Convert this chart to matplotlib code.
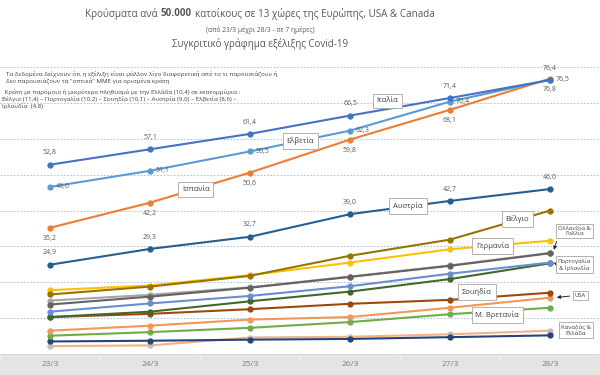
import numpy as np
import matplotlib
matplotlib.use('Agg')
import matplotlib.pyplot as plt
from matplotlib.patches import Rectangle

plt.rcParams['font.family'] = ['Open Sans', 'DejaVu Sans']

# ---- data (cases per 50.000 inhabitants) ----
dates = ['23/3', '24/3', '25/3', '26/3', '27/3', '28/3']

italy = [52.8, 57.1, 61.4, 66.5, 71.4, 76.4]
switzerland = [46.6, 51.1, 56.5, 62.3, 70.4, 76.5]
spain = [35.2, 42.2, 50.6, 59.8, 68.1, 76.8]
austria = [24.9, 29.3, 32.7, 39.0, 42.7, 46.0]
belgium = [16.6, 18.8, 21.8, 27.4, 31.9, 40.0]
germany = [17.8, 19.1, 22.0, 25.5, 29.2, 31.6]
netherlands = [14.9, 16.5, 18.6, 21.6, 24.7, 28.2]
france = [13.8, 16.0, 18.5, 21.5, 24.6, 28.1]
portugal = [11.8, 14.1, 16.2, 18.9, 22.4, 25.5]
ireland = [10.3, 11.8, 14.7, 17.4, 20.9, 25.3]
sweden = [10.3, 11.2, 12.5, 14.0, 15.1, 17.1]
usa = [6.5, 7.9, 9.6, 10.3, 12.9, 15.7]
uk = [5.1, 6.1, 7.3, 8.9, 11.1, 12.9]
canada = [2.2, 2.4, 4.6, 4.8, 5.5, 6.5]
greece = [3.5, 3.7, 4.0, 4.2, 4.7, 5.2]

title_parts = ['Κρούσματα ανά', '50.000', 'κατοίκους σε 13 χώρες της Ευρώπης, USA & Canada']
subtitle = '(από 23/3 μέχρι 28/3 - σε 7 ημέρες)'
title2 = 'Συγκριτικό γράφημα εξέλιξης Covid-19'
note_lines = ['Τα δεδομένα δείχνουν ότι η εξέλιξη είναι μάλλον λίγο διαφορετική από το τι παρουσιάζουν ή',
              'δεν παρουσιάζουν τα "οπτικά" ΜΜΕ για ορισμένα κράτη',
              ' Κράτη με παρόμοιο ή μικρότερο πληθυσμό με την Ελλάδα (10,4) σε εκατομμύρια :',
              'Βέλγιο (11,4) – Πορτογαλία (10,2) – Σουηδία (10,1) – Αυστρία (9,0) – Ελβετία (8,6) –',
              'Ιρλανδία  (4,8)']

W, H = 600, 375
fig = plt.figure(figsize=(6, 3.75), dpi=100)
# grey band at the bottom (category axis area)
fig.patches.append(Rectangle((0, 0), 1, 21 / H, transform=fig.transFigure,
                             facecolor='#E4E4E4', edgecolor='none', zorder=-5))
ax = fig.add_axes([0, 21 / H, 1, 294 / H])
ax.patch.set_alpha(0)
x = np.arange(len(dates))

series = [
    (canada, '#F4B183', '#BFBFBF'),
    (greece, '#264478', '#264478'),
    (uk, '#70AD47', '#70AD47'),
    (usa, '#F1975A', '#F1975A'),
    (sweden, '#9E480E', '#9E480E'),
    (ireland, '#43682B', '#43682B'),
    (portugal, '#698ED0', '#698ED0'),
    (netherlands, '#A5A5A5', '#A5A5A5'),
    (france, '#636363', '#636363'),
    (germany, '#FFC000', '#FFC000'),
    (belgium, '#997300', '#997300'),
    (austria, '#255E91', '#255E91'),
    (spain, '#ED7D31', '#ED7D31'),
    (switzerland, '#5B9BD5', '#5B9BD5'),
    (italy, '#4472C4', '#4472C4'),
]
for vals, lc, mc in series:
    ax.plot(x, vals, color=lc, lw=1.5, marker='o', ms=3.5,
            mfc=mc, mec=mc, zorder=3, clip_on=False)

ax.set_xlim(-0.383, 5.43)
ax.set_ylim(0, 82)
ax.set_yticks(np.arange(10, 81, 10))
ax.yaxis.grid(True, color='#9DB9D8', ls=(0, (2, 2)), lw=0.6)
ax.set_axisbelow(True)
ax.tick_params(axis='y', left=False, labelleft=False)
for s in ['left', 'right', 'top']:
    ax.spines[s].set_visible(False)
ax.spines['bottom'].set_color('#D9D9D9')
ax.set_xticks(x)
ax.set_xticklabels(dates)
ax.tick_params(axis='x', which='major', length=0, pad=5, labelsize=6, labelcolor='#7F7F7F')
ax.set_xticks(np.arange(-0.5, 6, 1), minor=True)
ax.tick_params(axis='x', which='minor', length=4, color='#F2F2F2', width=1)

# data labels
def fmt(v):
    return ('%.1f' % v).replace('.', ',')

lab = dict(fontsize=5, color='#595959')
for i in range(len(dates)):
    ax.annotate(fmt(italy[i]), (i, italy[i]), xytext=(0, 6), textcoords='offset points',
                ha='center', va='bottom', **lab)
    ax.annotate(fmt(switzerland[i]), (i, switzerland[i]), xytext=(4, 0), textcoords='offset points',
                ha='left', va='center', **lab)
    ax.annotate(fmt(spain[i]), (i, spain[i]), xytext=(0, -5), textcoords='offset points',
                ha='center', va='top', **lab)
    ax.annotate(fmt(austria[i]), (i, austria[i]), xytext=(0, 6), textcoords='offset points',
                ha='center', va='bottom', **lab)

# name boxes
box = dict(boxstyle='square,pad=0.5', fc='white', ec='#A6A6A6', lw=0.6)
bt = dict(fontsize=5.5, color='#404040', bbox=box, zorder=5)
ax.text(3.376, 70.6, 'Ιταλία', ha='center', va='center', **bt)
ax.text(2.505, 59.4, 'Ελβετία', ha='center', va='center', **bt)
ax.text(1.458, 45.8, 'Ισπανία', ha='center', va='center', **bt)
ax.text(3.580, 41.3, 'Αυστρία', ha='center', va='center', **bt)
ax.text(4.675, 37.7, 'Βέλγιο', ha='center', va='center', **bt)
ax.text(4.424, 30.1, 'Γερμανία', ha='center', va='center', **bt)
ax.text(4.268, 17.3, 'Σουηδία', ha='center', va='center', **bt)
ax.text(4.472, 10.9, 'Μ. Βρετανία', ha='center', va='center', **bt)

# boxes at the right edge, smaller so that they fit
bt2 = dict(fontsize=4.2, color='#404040', bbox=dict(boxstyle='square,pad=0.35', fc='white',
                                                     ec='#A6A6A6', lw=0.6), zorder=5)
ax.text(5.41, 6.6, 'Καναδάς &\nΕλλάδα', ha='right', va='center', multialignment='center', **bt2)
arr = dict(arrowstyle='-|>', color='#262626', lw=0.7, mutation_scale=5)
ax.annotate('Ολλανδία &\nΓαλλία', xy=(5.03, 28.3), xytext=(5.41, 34.3), ha='right', va='center',
            multialignment='center', arrowprops=dict(relpos=(0, 0), **arr), **bt2)
ax.annotate('Πορτογαλία\n& Ιρλανδία', xy=(5.04, 25.5), xytext=(5.41, 24.9), ha='right', va='center',
            multialignment='center', arrowprops=dict(relpos=(0, 0.5), **arr), **bt2)
ax.annotate('USA', xy=(5.04, 15.7), xytext=(5.36, 16.3), ha='right', va='center',
            arrowprops=dict(relpos=(0, 0.5), **arr), **bt2)

# titles (bold middle part)
r = fig.canvas.get_renderer()
tparts = []
for s, w in zip(title_parts, ['normal', 'bold', 'normal']):
    tparts.append(fig.text(0, 1 - 14 / H, s, fontsize=7.1, fontweight=w, color='#595959',
                           ha='left', va='center'))
widths = [t.get_window_extent(r).width for t in tparts]
gap = 3
x0 = 260 - (sum(widths) + 2 * gap) / 2
for t, wd in zip(tparts, widths):
    t.set_x(x0 / W)
    x0 += wd + gap
fig.text(260 / W, 1 - 30 / H, subtitle, fontsize=4.8, color='#595959', ha='center', va='center')
fig.text(260 / W, 1 - 44 / H, title2, fontsize=7.0, color='#595959', ha='center', va='center')

# note on the left
note_pos = [(6, 75), (6, 82.3), (3, 92), (2, 99), (2, 106.3)]
for (px, py), s in zip(note_pos, note_lines):
    fig.text(px / W, 1 - py / H, s, fontsize=4.4, color='#404040', ha='left', va='center')

fig.savefig('out.png', dpi=100)
